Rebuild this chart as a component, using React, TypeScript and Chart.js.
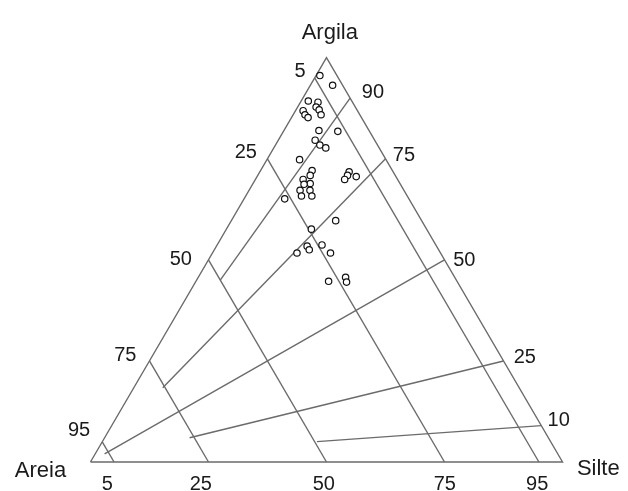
import React, { useEffect, useRef } from "react";
import { Chart, registerables } from "chart.js";

Chart.register(...registerables);

// ---- data (percent) ----
const clayPct = [95.6, 93.2, 89.3, 86.9, 85.9, 85.2, 89.0, 87.8, 87.1, 85.9, 82.0, 81.8, 79.6, 78.4, 77.7, 74.8, 72.1, 70.9, 69.9, 68.9, 68.7, 67.2, 67.2, 65.8, 65.8, 65.1, 71.8, 70.9, 69.9, 70.6, 59.7, 57.6, 53.4, 52.5, 51.7, 53.7, 51.7, 44.7, 45.7, 44.5];
const siltPct = [0.8, 4.7, 1.5, 1.6, 2.5, 3.5, 3.7, 3.9, 4.9, 5.9, 7.4, 11.5, 7.8, 9.4, 11.0, 6.9, 10.9, 11.1, 10.1, 12.1, 10.9, 10.8, 12.9, 11.8, 14.0, 8.6, 18.9, 19.0, 18.9, 21.0, 22.1, 18.0, 19.2, 20.1, 17.9, 22.2, 25.0, 28.1, 31.2, 32.0];

const sandLevels = [5, 25, 50, 75, 95];
const ratioClayShare = [0.9, 0.75, 0.5, 0.25, 0.1];
const ratioStartSand = [50, 75.5, 96, 76, 49.5];
const ratioEndClay = [90, 75, 50, 25, 9];

const leftTicks = ["5", "25", "50", "75", "95"]; // sand
const rightTickValues = [90, 75, 50, 25, 10]; // clay
const rightTicks = ["90", "75", "50", "25", "10"];
const bottomTickValues = [5, 25, 50, 75, 95]; // silt
const bottomTicks = ["5", "25", "50", "75", "95"];
const vertexNames = ["Argila", "Areia", "Silte"];

// ---- layout (pixel offsets for text) ----
const leftOffsets = [[-14.7, -1.4], [-21.7, -1], [-27.7, 5.5], [-24.2, 0], [-23.2, -6]];
const rightOffsets = [[22.8, 0], [18.5, 2], [19.8, 6.5], [21.3, 2], [19.8, 4.6]];
const bottomOffsets = [[-6.7, 27.5], [-7.7, 27.5], [-2.7, 27.5], [0.3, 27.5], [-1.7, 27.5]];

const H = Math.sqrt(3) / 2;
const toXY = (clay: number, silt: number) => ({ x: silt + clay / 2, y: clay * H });

const LINE = "#6b6b6b";

export default function App() {
  const ref = useRef<HTMLCanvasElement>(null);
  useEffect(() => {
    if (!ref.current) return;
    const lineDs = (data: { x: number; y: number }[], closed = false) => ({
      type: "line" as const,
      data,
      showLine: true,
      borderColor: LINE,
      borderWidth: 1.4,
      pointRadius: 0,
      fill: false,
      tension: 0,
      order: 2,
    });

    const datasets: any[] = [];
    datasets.push({
      type: "scatter",
      data: clayPct.map((c, i) => toXY(c, siltPct[i])),
      pointRadius: 3.2,
      pointBorderWidth: 1.2,
      pointBorderColor: "#111",
      pointBackgroundColor: "#fff",
      showLine: false,
      order: 0,
    });
    datasets.push(lineDs([toXY(0, 0), toXY(0, 100), toXY(100, 0), toXY(0, 0)]));
    sandLevels.forEach((s) => {
      datasets.push(lineDs([toXY(100 - s, 0), toXY(0, 100 - s)]));
    });
    ratioClayShare.forEach((sh, i) => {
      const rest = 100 - ratioStartSand[i];
      datasets.push(
        lineDs([toXY(rest * sh, rest * (1 - sh)), toXY(ratioEndClay[i], 100 - ratioEndClay[i])])
      );
    });

    const labelPlugin = {
      id: "ternaryLabels",
      afterDatasetsDraw(chart: any) {
        const { ctx } = chart;
        const xs = chart.scales.x;
        const ys = chart.scales.y;
        const px = (p: { x: number; y: number }) => [xs.getPixelForValue(p.x), ys.getPixelForValue(p.y)];
        ctx.save();
        ctx.fillStyle = "#1a1a1a";
        ctx.textAlign = "center";
        ctx.textBaseline = "alphabetic";
        ctx.font = "20px 'Liberation Sans', Arial, sans-serif";
        sandLevels.forEach((s, i) => {
          const [x, y] = px(toXY(100 - s, 0));
          ctx.fillText(leftTicks[i], x + leftOffsets[i][0], y + leftOffsets[i][1]);
        });
        rightTickValues.forEach((c, i) => {
          const [x, y] = px(toXY(c, 100 - c));
          ctx.fillText(rightTicks[i], x + rightOffsets[i][0], y + rightOffsets[i][1]);
        });
        bottomTickValues.forEach((s, i) => {
          const [x, y] = px(toXY(0, s));
          ctx.fillText(bottomTicks[i], x + bottomOffsets[i][0], y + bottomOffsets[i][1]);
        });
        ctx.font = "22px 'Liberation Sans', Arial, sans-serif";
        let [x, y] = px(toXY(100, 0));
        ctx.fillText(vertexNames[0], x + 3.3, y - 18.7);
        [x, y] = px(toXY(0, 0));
        ctx.fillText(vertexNames[1], x - 50, y + 15.3);
        [x, y] = px(toXY(0, 100));
        ctx.fillText(vertexNames[2], x + 35.8, y + 13.3);
        ctx.restore();
      },
    };

    const chart = new Chart(ref.current, {
      type: "scatter",
      data: { datasets },
      options: {
        animation: false,
        responsive: false,
        layout: { padding: 0 },
        plugins: { legend: { display: false }, tooltip: { enabled: false } },
        scales: {
          x: { type: "linear", display: false, min: -18.06, max: 112.77 },
          y: { type: "linear", display: false, min: -5.095, max: 97.86 },
        },
      },
      plugins: [labelPlugin],
    });
    return () => chart.destroy();
  }, []);

  return (
    <div style={{ position: "absolute", left: 0, top: 0, width: 628, height: 491, background: "#fff" }}>
      <canvas ref={ref} width={628} height={491} />
    </div>
  );
}
